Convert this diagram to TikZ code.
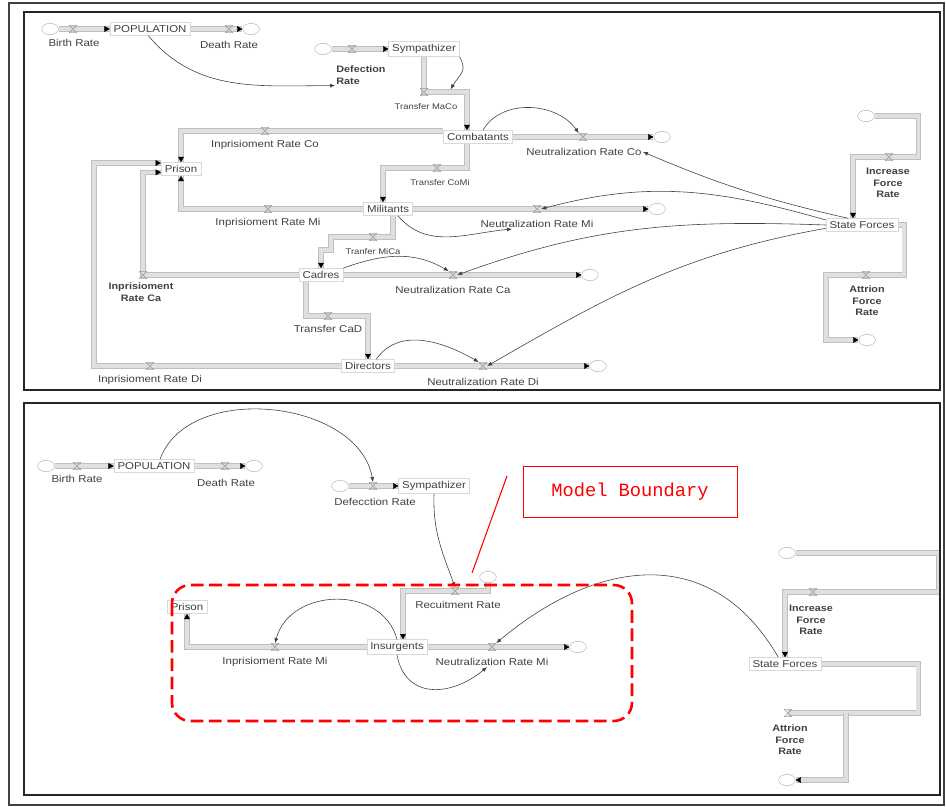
\documentclass[tikz,border=0pt]{standalone}
\usepackage{fontspec}
\setmainfont{Liberation Sans}[FakeStretch=1.15]
\newfontfamily\boundfont{Liberation Mono}
\usepackage{tikz}
\usetikzlibrary{shapes.geometric,arrows.meta,decorations.markings}
\pgfdeclarelayer{pipes}
\pgfsetlayers{pipes,main}

\begin{document}
\begin{tikzpicture}[x=0.03cm,y=-0.03cm,
	every node/.style={font=\fontsize{8.5}{9.8}\selectfont,text=black!75,inner sep=1pt},
	stock/.style={rectangle,draw=gray!30,fill=white,inner xsep=3pt,inner ysep=2.5pt},
	cloud/.style={ellipse,draw=gray!60,fill=white,minimum width=0.5cm,minimum height=0.34cm,inner sep=0pt},
	valve/.style={rectangle,inner sep=0pt,minimum width=0.24cm,minimum height=0.22cm,
		path picture={\draw[gray!75,line width=0.5pt] (path picture bounding box.south west) -- (path picture bounding box.north east) -- (path picture bounding box.north west) -- (path picture bounding box.south east) -- cycle;}},
	band/.style={draw=gray!25,line width=3pt,preaction={draw=gray!50,line width=4.3pt}},
	pipe/.style={band,postaction={decorate},decoration={markings,mark=at position 1 with {\arrow[black]{Triangle[length=0.16cm,width=0.17cm,line width=0.3pt]}}}},
	link/.style={draw=black!75,line width=0.5pt,-{Latex[length=0.15cm,width=0.12cm]}},
	small/.style={font=\fontsize{7}{8}\selectfont},
	bold/.style={font=\fontsize{8}{9.8}\selectfont\bfseries,align=center},
	panel/.style={draw=black!85,line width=1.3pt}]
\useasboundingbox (0,0) rectangle (946,807);
\draw[black!75,line width=1pt] (9,3) rectangle (944,805);
\draw[panel] (24,12) rectangle (940,390);
\draw[panel] (24,403) rectangle (940,795);

% upper model
\node[cloud] (cBirth) at (50,29) {};
\node[valve] (vBirth) at (73,29) {};
\node[stock] (Pop) at (150,29) {POPULATION};
\node[valve] (vDeath) at (229,29) {};
\node[cloud] (cDeath) at (251,29) {};
\node (lBirth) at (74,43) {Birth Rate};
\node (lDeath) at (229,45) {Death Rate};
\node[cloud] (cDef) at (323,49) {};
\node[valve] (vDef) at (352,49) {};
\node[stock] (Symp) at (424,49) {Sympathizer};
\node[bold,align=left,anchor=west] (lDef) at (335,75) {Defection\\Rate};
\node[valve] (vMaCo) at (424,92) {};
\node[small] (lMaCo) at (426,107) {Transfer MaCo};
\node[stock] (Comb) at (478,137) {Combatants};
\node[valve] (vCo) at (583,137) {};
\node[cloud] (cCo) at (662,137) {};
\node (lCo) at (584,152) {Neutralization Rate Co};
\node[stock] (Prison) at (181,169) {Prison};
\node[valve] (vIRCo) at (265,131) {};
\node (lIRCo) at (265,145) {Inprisioment Rate Co};
\node[valve] (vCoMi) at (437,168) {};
\node[small] (lCoMi) at (440,183) {Transfer CoMi};
\node[stock] (Mil) at (388,209) {Militants};
\node[valve] (vIRMi) at (268,209) {};
\node (lIRMi) at (268,223) {Inprisioment Rate Mi};
\node[valve] (vMi) at (537,209) {};
\node[cloud] (cMi) at (657,209) {};
\node (lMi) at (537,224) {Neutralization Rate Mi};
\node[valve] (vMiCa) at (373,237) {};
\node[small] (lMiCa) at (373,252) {Tranfer MiCa};
\node[stock] (Cad) at (321,275) {Cadres};
\node[valve] (vIRCa) at (143,275) {};
\node[bold] (lIRCa) at (141,292) {Inprisioment\\Rate Ca};
\node[valve] (vCa) at (453,275) {};
\node[cloud] (cCa) at (590,275) {};
\node (lCa) at (453,290) {Neutralization Rate Ca};
\node[valve] (vCaD) at (328,316) {};
\node (lCaD) at (328,329) {Transfer CaD};
\node[stock] (Dir) at (368,366) {Directors};
\node[valve] (vIRDi) at (150,366) {};
\node (lIRDi) at (150,380) {Inprisioment Rate Di};
\coordinate (kDi) at (94,366);
\node[valve] (vDi) at (483,366) {};
\node[cloud] (cDi) at (598,366) {};
\node (lDi) at (483,382) {Neutralization Rate Di};
\node[stock] (SF) at (862,225) {State Forces};
\node[cloud] (cInc) at (866,116) {};
\node[valve] (vInc) at (889,157) {};
\node[bold] (lInc) at (888,183) {Increase\\Force\\Rate};
\node[valve] (vAtt) at (866,275) {};
\node[cloud] (cAtt) at (867,340) {};
\node[bold] (lAtt) at (867,301) {Attrion\\Force\\Rate};

\begin{pgfonlayer}{pipes}
\draw[pipe] (cBirth.east) -- (Pop.west);
\draw[pipe] (Pop.east) -- (cDeath.west);
\draw[pipe] (cDef.east) -- (Symp.west);
\draw[pipe] (Symp.south) -- (vMaCo.center) -| ([xshift=-0.33cm]Comb.north);
\draw[pipe] (Comb.east) -- (cCo.west);
\draw[pipe] ([yshift=0.18cm]Comb.west) -| (Prison.north);
\draw[pipe] ([xshift=-0.33cm]Comb.south) |- (vCoMi.center) -| ([xshift=-0.15cm]Mil.north);
\draw[pipe] (Mil.west) -| (Prison.south);
\draw[pipe] (Mil.east) -- (cMi.west);
\draw[pipe] ([xshift=0.15cm]Mil.south) |- (vMiCa.center) -| ++(-42,13) -| (Cad.north);
\draw[pipe] (Cad.west) -- (vIRCa.center) |- ([yshift=-0.1cm]Prison.west);
\draw[pipe] (Cad.east) -- (cCa.west);
\draw[pipe] ([xshift=-0.45cm]Cad.south) |- (vCaD.center) -| (Dir.north);
\draw[pipe] (Dir.west) -| (kDi) |- ([yshift=0.18cm]Prison.west);
\draw[pipe] (Dir.east) -- (cDi.west);
\draw[pipe] (cInc.east) -- ++(44,0) |- (vInc.center) -| ([xshift=-0.27cm]SF.north);
\draw[pipe] (SF.east) -| ++(6,50) -- (vAtt.center) -- ++(-40,0) |- (cAtt.west);
\end{pgfonlayer}

\draw[link] ([xshift=-0.05cm]Pop.south) to[out=-50,in=180] (lDef.south west);
\draw[link] (Symp.south east) to[out=-60,in=60,looseness=1.3] ([xshift=0.8cm,yshift=0.08cm]vMaCo.center);
\draw[link] ([xshift=0.15cm]Comb.north) to[out=60,in=125] (vCo.north west);
\draw[link] ([xshift=0.3cm]Mil.south) to[out=-50,in=185] ([xshift=-0.75cm]lMi.south);
\draw[link] (Cad.north east) to[out=20,in=150] (vCa.north west);
\draw[link] ([xshift=0.25cm]Dir.north) to[out=55,in=150] (vDi.north west);
\draw[link] ([xshift=-0.42cm]SF.north) to[bend left=5] (lCo.east);
\draw[link] ([yshift=0.15cm]SF.west) to[out=164,in=15] (vMi.east);
\draw[link] (SF.west) to[out=178,in=20] (vCa.east);
\draw[link] ([yshift=-0.1cm]SF.west) to[out=190,in=30] (vDi.east);

% lower model
\node[cloud] (cBirth2) at (46,466) {};
\node[valve] (vBirth2) at (77,466) {};
\node[stock] (Pop2) at (154,466) {POPULATION};
\node[valve] (vDeath2) at (225,466) {};
\node[cloud] (cDeath2) at (254,466) {};
\node (lBirth2) at (77,479) {Birth Rate};
\node (lDeath2) at (226,483) {Death Rate};
\node[cloud] (cDef2) at (340,486) {};
\node[valve] (vDef2) at (373,486) {};
\node[stock] (Symp2) at (434,486) {Sympathizer};
\node (lDef2) at (375,502) {Defecction Rate};
\node[cloud] (cRec) at (488,577) {};
\node[valve] (vRec) at (455,591) {};
\node (lRec) at (458,605) {Recuitment Rate};
\node[stock] (Ins) at (397,647) {Insurgents};
\node[stock] (Prison2) at (187,607) {Prison};
\node[valve] (vIRMi2) at (275,647) {};
\node (lIRMi2) at (275,662) {Inprisioment Rate Mi};
\node[valve] (vMi2) at (492,647) {};
\node[cloud] (cMi2) at (578,647) {};
\node (lMi2) at (492,662) {Neutralization Rate Mi};
\node[stock] (SF2) at (785,664) {State Forces};
\node[cloud] (cInc2) at (787,553) {};
\node[valve] (vInc2) at (813,592) {};
\node[bold] (lInc2) at (811,620) {Increase\\Force\\Rate};
\node[valve] (vAtt2) at (788,713) {};
\coordinate (kAtt2) at (846,713);
\node[cloud] (cAtt2) at (787,780) {};
\node[bold] (lAtt2) at (790,740) {Attrion\\Force\\Rate};

\begin{pgfonlayer}{pipes}
\draw[pipe] (cBirth2.east) -- (Pop2.west);
\draw[pipe] (Pop2.east) -- (cDeath2.west);
\draw[pipe] (cDef2.east) -- (Symp2.west);
\draw[pipe] (cRec.south) |- (vRec.center) -| ([xshift=0.18cm]Ins.north);
\draw[pipe] (Ins.west) -| (Prison2.south);
\draw[pipe] (Ins.east) -- (cMi2.west);
\draw[pipe] (cInc2.east) -- ++(143,0) |- (vInc2.center) -| (SF2.north);
\draw[band] (SF2.east) -- ++(97,0) |- (vAtt2.center);
\draw[pipe] (kAtt2) |- (cAtt2.east);
\end{pgfonlayer}

\draw[link] ([xshift=0.18cm]Pop2.north) to[out=70,in=100] (vDef2.north);
\draw[link] (Symp2.south) to[out=-92,in=110] (vRec.north);
\draw[link] (Ins.north) to[out=105,in=75,looseness=1.2] (vIRMi2.north);
\draw[link] (Ins.south) to[out=-80,in=-140,looseness=1.3] ([xshift=-0.15cm]lMi2.south);
\draw[link] ([xshift=-0.2cm]SF2.north) to[out=120,in=40,looseness=1.2] (vMi2.north east);

% model boundary
\draw[red,line width=2.2pt,dash pattern=on 0.38cm off 0.17cm,rounded corners=0.55cm] (172,585) rectangle (632,721);
\node[draw=red,line width=0.8pt,text=red,minimum width=6.42cm,minimum height=1.53cm,font=\boundfont\fontsize{16}{16}\selectfont] (mb) at (630,492) {Model Boundary};
\coordinate (mbA) at (507,476);
\coordinate (mbB) at (472,573);
\draw[red,line width=0.9pt] (mbA) -- (mbB);
\end{tikzpicture}
\end{document}
